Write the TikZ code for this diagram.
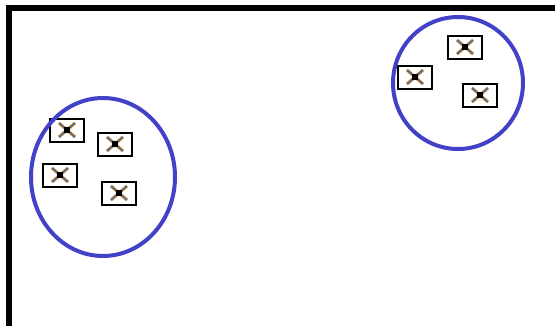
\documentclass[tikz,border=0pt]{standalone}
\usetikzlibrary{positioning}

\definecolor{ringblue}{RGB}{66,66,200}
\definecolor{crossorange}{RGB}{205,125,35}
\definecolor{crossblue}{RGB}{40,110,190}

\begin{document}
\begin{tikzpicture} [x=1pt,y=-1pt,
	imgbox/.style={draw=black,line width=2pt,fill=white,rectangle,minimum width=34pt,minimum height=23pt,inner sep=0pt,
		path picture={
			\draw[crossorange,line width=3pt] ([shift={(-8pt,-7pt)}]path picture bounding box.center)--([shift={(8pt,7pt)}]path picture bounding box.center);
			\draw[crossorange,line width=3pt] ([shift={(-8pt,7pt)}]path picture bounding box.center)--([shift={(8pt,-7pt)}]path picture bounding box.center);
			\draw[crossblue,line width=1pt] ([shift={(-8pt,-7pt)}]path picture bounding box.center)--([shift={(8pt,7pt)}]path picture bounding box.center);
			\draw[crossblue,line width=1pt] ([shift={(-8pt,7pt)}]path picture bounding box.center)--([shift={(8pt,-7pt)}]path picture bounding box.center);
			\fill[black] ([shift={(-3pt,-3pt)}]path picture bounding box.center) rectangle ([shift={(3pt,3pt)}]path picture bounding box.center);
		}},
	ring/.style={color=ringblue,line width=4pt}]
\useasboundingbox (0,0) rectangle (555,325);

% frame
\draw[line width=6pt] (9,335)--(9,8)--(565,8);

% left group
\node[imgbox] (i1) at (67,130) {};
\node[imgbox] (i2) at (115,144) {};
\node[imgbox] (i3) at (60,175) {};
\node[imgbox] (i4) at (119,193) {};

% right group
\node[imgbox] (i5) at (465,47) {};
\node[imgbox] (i6) at (415,77) {};
\node[imgbox] (i7) at (480,95) {};

\draw[ring] (103,177) ellipse (72 and 79);
\draw[ring] (458,83) ellipse (65 and 66);

\end{tikzpicture}
\end{document}
